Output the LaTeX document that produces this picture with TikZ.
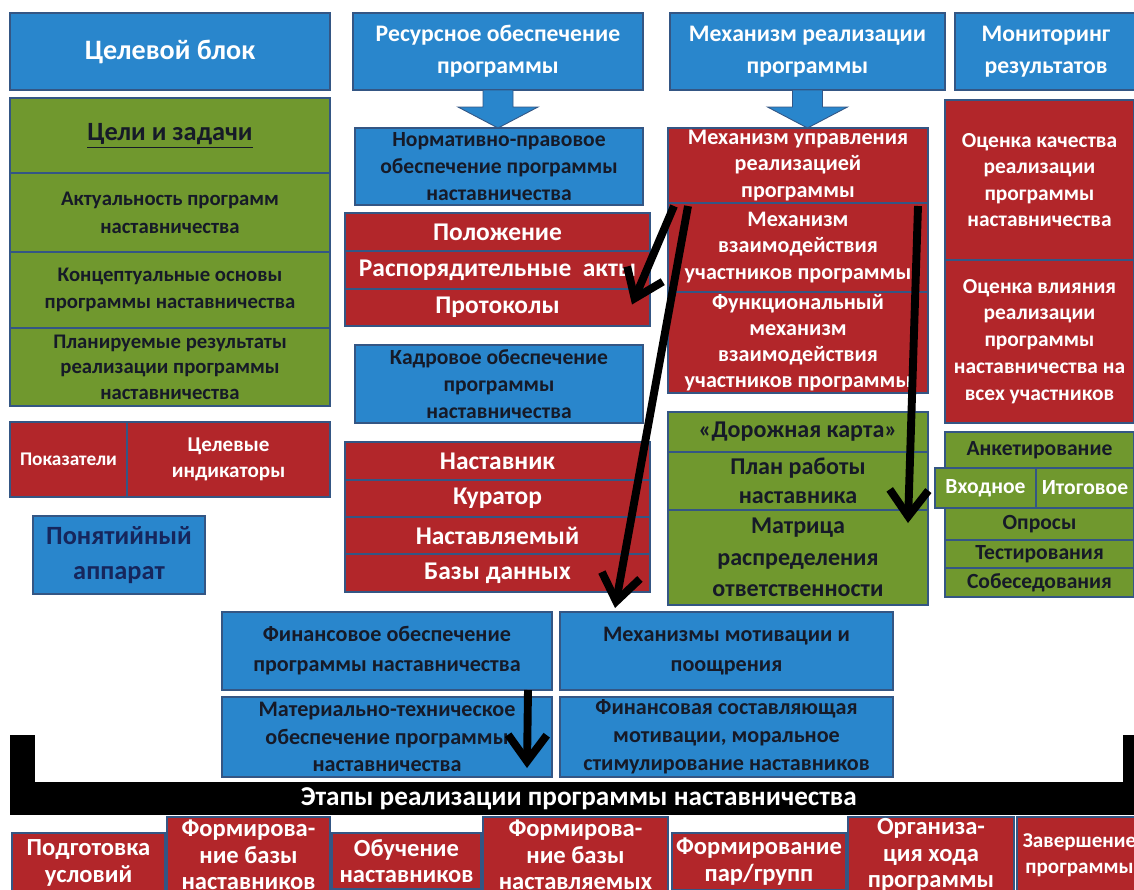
\documentclass[tikz,border=0pt]{standalone}
\usepackage{fontspec}
\setmainfont{Carlito}
\usepackage{tikz}
\usetikzlibrary{arrows.meta, positioning, calc}

\newcommand{\boxfont}[2]{\fontsize{#1}{#2}\selectfont\bfseries}

\definecolor{boxblue}{RGB}{41,134,204}
\definecolor{boxred}{RGB}{178,38,42}
\definecolor{boxgreen}{RGB}{112,152,46}
\definecolor{edge}{RGB}{52,86,132}
\definecolor{ink}{RGB}{22,26,40}
\definecolor{navy}{RGB}{22,38,92}

\tikzstyle{cell} = [rectangle, draw=edge, line width=0.6pt, anchor=north west, inner sep=0pt, outer sep=0pt, align=center]
\tikzstyle{headbox} = [cell, fill=boxblue, text=white, font=\boxfont{13.5}{18}]
\tikzstyle{bluebox} = [cell, fill=boxblue, text=ink, font=\boxfont{12.3}{15.5}]
\tikzstyle{redbox} = [cell, fill=boxred, text=white, font=\boxfont{12.6}{15.3}]
\tikzstyle{greenbox} = [cell, fill=boxgreen, text=ink, font=\boxfont{12.3}{15.5}]
\tikzstyle{stepbox} = [redbox, font=\boxfont{14}{15}]
\tikzstyle{arrow} = [line width=4.5pt, -{Straight Barb[length=15pt, width=22pt]}]
\tikzstyle{blockarrow} = [fill=boxblue, draw=edge, line width=0.5pt]
\tikzset{wh/.style 2 args={minimum width=#1*0.02cm, minimum height=#2*0.02cm}}

\begin{document}
\begin{tikzpicture}[x=0.02cm, y=-0.02cm]
  \useasboundingbox (0,0) rectangle (1134,890);
  \fill[white] (0,0) rectangle (1134,890);

  % header row
  \node (goal) [headbox, wh={320}{77}, font=\boxfont{16}{19}] at (10,13) {Целевой блок};
  \node (res) [headbox, wh={290}{77}] at (353,13) {Ресурсное обеспечение\\программы};
  \node (mech) [headbox, wh={275}{77}] at (670,13) {Механизм реализации\\программы};
  \node (mon) [headbox, wh={182}{77}] at (955,13) {Мониторинг\\результатов};

  % target block
  \node (aims) [greenbox, wh={320}{75}, font=\boxfont{15}{18}] at (10,98) {\underline{Цели и задачи}};
  \node (rel) [greenbox, wh={320}{79}, below=0pt of aims, font=\boxfont{11.8}{15.8}] {Актуальность программ\\наставничества};
  \node (conc) [greenbox, wh={320}{76}, below=0pt of rel, font=\boxfont{11.8}{15.8}] {Концептуальные основы\\программы наставничества};
  \node (plan) [greenbox, wh={320}{78}, below=0pt of conc, font=\boxfont{11.8}{14.5}] {Планируемые результаты\\реализации программы\\наставничества};
  \node (kpi) [redbox, wh={117}{75}, font=\boxfont{11}{15}] at (10,422) {Показатели};
  \node (ind) [redbox, wh={203}{75}, right=0pt of kpi, font=\boxfont{12}{15}] {Целевые\\индикаторы};
  \node (term) [bluebox, wh={172}{78}, text=navy, font=\boxfont{15}{20}] at (33,516) {Понятийный\\аппарат};

  % resources
  \node (norm) [bluebox, wh={288}{77}] at (355,128) {Нормативно-правовое\\обеспечение программы\\наставничества};
  \node (pol) [redbox, wh={305}{38}, font=\boxfont{14.5}{17}] at (345,213) {Положение};
  \node (acts) [redbox, wh={305}{38}, below=0pt of pol, font=\boxfont{14.5}{17}] {Распорядительные~~акты};
  \node (prot) [redbox, wh={305}{37}, below=0pt of acts, font=\boxfont{14.5}{17}] {Протоколы};
  \node (staff) [bluebox, wh={288}{78}] at (355,345) {Кадровое обеспечение\\программы\\наставничества};
  \node (mentor) [redbox, wh={305}{38}, font=\boxfont{14.5}{17}] at (345,442) {Наставник};
  \node (cur) [redbox, wh={305}{37}, below=0pt of mentor, font=\boxfont{14.5}{17}] {Куратор};
  \node (mentee) [redbox, wh={305}{37}, below=0pt of cur, font=\boxfont{14.5}{17}] {Наставляемый};
  \node (db) [redbox, wh={305}{38}, below=0pt of mentee, font=\boxfont{14.5}{17}] {Базы данных};

  % mechanism
  \node (mctl) [redbox, wh={260}{75}] at (668,128) {Механизм управления\\реализацией\\программы};
  \node (mint) [redbox, wh={260}{89}, below=0pt of mctl] {Механизм\\взаимодействия\\участников программы};
  \node (mfun) [redbox, wh={260}{101}, below=0pt of mint, font=\boxfont{12.6}{14.8}] {Функциональный\\механизм\\взаимодействия\\участников программы};
  \node (road) [greenbox, wh={260}{40}, font=\boxfont{13.7}{18}] at (668,412) {«Дорожная карта»};
  \node (wplan) [greenbox, wh={260}{58}, below=0pt of road, font=\boxfont{13.7}{16.5}] {План работы\\наставника};
  \node (matr) [greenbox, wh={260}{95}, below=0pt of wplan, font=\boxfont{13.7}{18}] {Матрица\\распределения\\ответственности};

  % monitoring
  \node (qual) [redbox, wh={189}{160}, font=\boxfont{12.2}{15}] at (945,100) {Оценка качества\\реализации\\программы\\наставничества};
  \node (impact) [redbox, wh={189}{163}, below=0pt of qual, font=\boxfont{12.2}{15.3}] {Оценка влияния\\реализации\\программы\\наставничества на\\всех участников};
  \node (survey) [greenbox, wh={189}{36}] at (945,432) {Анкетирование};
  \node (entry) [greenbox, wh={101}{40}, text=white] at (935,468) {Входное};
  \node (final) [greenbox, wh={98}{40}, text=white, right=0pt of entry] {Итоговое};
  \node (polls) [greenbox, wh={189}{32}] at (945,508) {Опросы};
  \node (tests) [greenbox, wh={189}{28}, below=0pt of polls] {Тестирования};
  \node (talks) [greenbox, wh={189}{29}, below=0pt of tests] {Собеседования};

  % finance and motivation
  \node (fin) [bluebox, wh={330}{78}, font=\boxfont{12.6}{17}] at (222,612) {Финансовое обеспечение\\программы наставничества};
  \node (motiv) [bluebox, wh={333}{78}, font=\boxfont{12.6}{17}] at (560,612) {Механизмы мотивации и\\поощрения};
  \node (mat) [bluebox, wh={330}{80}, font=\boxfont{12.6}{15.8}] at (222,697) {Материально-техническое\\обеспечение программы\\наставничества};
  \node (moral) [bluebox, wh={333}{80}, font=\boxfont{12.6}{15.8}] at (560,697) {Финансовая составляющая\\мотивации, моральное\\стимулирование наставников};

  % stages
  \node (stages) [anchor=north west, inner sep=0pt, fill=black, text=white, wh={1137}{33}, font=\boxfont{15.5}{18}] at (10,782) {Этапы реализации программы наставничества};
  \fill[black] (stages.north west) rectangle ++(25,-47);
  \fill[black] (stages.north east) rectangle ++(-25,-47);
  \node (prep) [stepbox, wh={153}{60}] at (12,833) {Подготовка\\условий};
  \node (mbase) [stepbox, wh={163}{76}] at (167,817) {Формирова-\\ние базы\\наставников};
  \node (train) [stepbox, wh={149}{56}] at (332,833) {Обучение\\наставников};
  \node (ebase) [stepbox, wh={185}{76}] at (483,817) {Формирова-\\ние базы\\наставляемых};
  \node (pairs) [stepbox, wh={174}{57}] at (672,833) {Формирование\\пар/групп};
  \node (run) [stepbox, wh={166}{76}] at (848,817) {Организа-\\ция хода\\программы};
  \node (close) [stepbox, wh={125}{76}, font=\boxfont{12}{15}] at (1017,817) {Завершение\\программы};

  % block arrows
  \filldraw[blockarrow] ($(res.south)+(-15,0)$) -- ++(0,17) -- ++(-25,0) -- (res.south |- norm.north) -- ($(res.south)+(40,17)$) -- ++(-25,0) -- ($(res.south)+(15,0)$) -- cycle;
  \filldraw[blockarrow] ($(mech.south)+(-15,0)$) -- ++(0,17) -- ++(-25,0) -- (mech.south |- mctl.north) -- ($(mech.south)+(40,17)$) -- ++(-25,0) -- ($(mech.south)+(15,0)$) -- cycle;

  % arrows
  \draw [arrow] ($(mctl.south west)+(6,3)$) -- ($(prot.east)+(-18,-3)$);
  \draw [arrow] ($(mctl.south west)+(20,3)$) -- ($(motiv.north west)+(55,-4)$);
  \draw [arrow] ($(mctl.south east)+(-10,3)$) -- ($(matr.north east)+(-20,13)$);
  \draw [arrow] ($(fin.south east)+(-24,0)$) -- ($(mat.south east)+(-25,-9)$);
\end{tikzpicture}
\end{document}
